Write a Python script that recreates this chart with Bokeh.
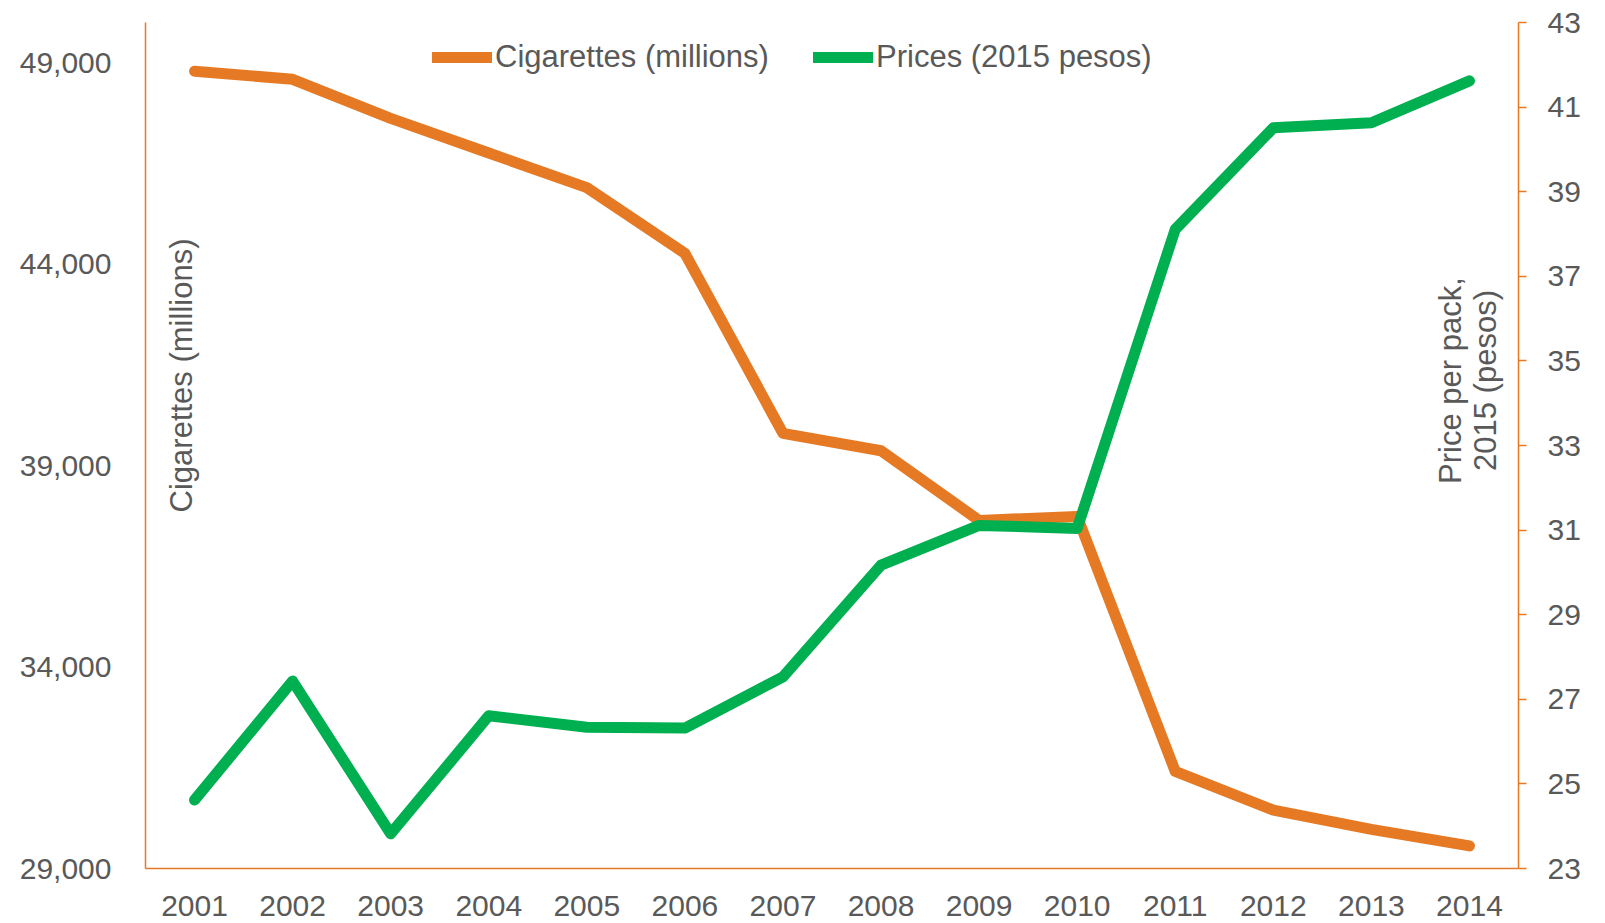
import math
from bokeh.plotting import figure
from bokeh.models import (Range1d, LinearAxis, FixedTicker, NumeralTickFormatter,
                          Legend, LegendItem, Label, FactorRange)
from bokeh.embed import file_html
from bokeh.resources import INLINE

years = ["2001", "2002", "2003", "2004", "2005", "2006", "2007",
         "2008", "2009", "2010", "2011", "2012", "2013", "2014"]
cigarettes = [48790, 48590, 47620, 46760, 45900, 44270, 39800,
              39370, 37640, 37740, 31410, 30450, 29970, 29560]
prices = [24.62, 27.43, 23.82, 26.61, 26.34, 26.32, 27.53,
          30.17, 31.11, 31.04, 38.11, 40.51, 40.63, 41.62]
left_ticks = [29000, 34000, 39000, 44000, 49000]
right_ticks = [23, 25, 27, 29, 31, 33, 35, 37, 39, 41, 43]

ORANGE = "#E67A24"
GREEN = "#00AF4F"
GRAY = "#595959"
FONT = "Liberation Sans"

p = figure(width=1605, height=923,
           x_range=FactorRange(*years),
           y_range=Range1d(29000, 50000),
           output_backend="svg", toolbar_location=None,
           min_border_left=145, min_border_right=87,
           min_border_top=22, min_border_bottom=55)
p.extra_y_ranges = {"price": Range1d(23, 43)}
p.outline_line_color = None
p.xgrid.grid_line_color = None
p.ygrid.grid_line_color = None
p.background_fill_color = "white"
p.border_fill_color = "white"

# left axis
ly = p.yaxis[0]
ly.ticker = FixedTicker(ticks=left_ticks)
ly.formatter = NumeralTickFormatter(format="0,0")
ly.axis_line_color = ORANGE
ly.axis_line_width = 1.5
ly.major_tick_line_color = None
ly.minor_tick_line_color = None
ly.major_label_standoff = 28
ly.major_label_text_font = FONT
ly.major_label_text_font_size = "30px"
ly.major_label_text_color = GRAY

# bottom axis
bx = p.xaxis[0]
bx.axis_line_color = ORANGE
bx.axis_line_width = 1.5
bx.major_tick_line_color = None
bx.minor_tick_line_color = None
bx.major_label_standoff = 21
bx.major_label_text_font = FONT
bx.major_label_text_font_size = "30px"
bx.major_label_text_color = GRAY

# right axis
ry = LinearAxis(y_range_name="price", ticker=FixedTicker(ticks=right_ticks))
ry.axis_line_color = ORANGE
ry.axis_line_width = 1.5
ry.major_tick_line_color = ORANGE
ry.major_tick_line_width = 1.5
ry.major_tick_in = 0
ry.major_tick_out = 8
ry.minor_tick_line_color = None
ry.major_label_standoff = 21
ry.major_label_text_font = FONT
ry.major_label_text_font_size = "30px"
ry.major_label_text_color = GRAY
p.add_layout(ry, "right")

r1 = p.line(x=years, y=cigarettes, line_color=ORANGE, line_width=11,
            line_cap="round", line_join="round")
r2 = p.line(x=years, y=prices, y_range_name="price", line_color=GREEN,
            line_width=11, line_cap="round", line_join="round")

def make_legend(item, vx):
    lg = Legend(items=[item], location=(vx, 793), orientation="horizontal",
                glyph_width=60, glyph_height=20, label_standoff=3,
                label_text_font=FONT, label_text_font_size="31px",
                label_text_color=GRAY, padding=0, margin=0, spacing=0,
                border_line_color=None, background_fill_alpha=0)
    p.add_layout(lg, "center")

make_legend(LegendItem(label="Cigarettes (millions)", renderers=[r1]), 287)
make_legend(LegendItem(label="Prices (2015 pesos)", renderers=[r2]), 668)

lab_kw = dict(angle=math.pi / 2, text_align="center", text_baseline="middle",
              text_font=FONT, text_font_size="31px", text_color=GRAY)
p.add_layout(Label(x=0.367, y=41238, text="Cigarettes (millions)", **lab_kw))
p.add_layout(Label(x=13.307, y=41113, text="Price per pack,", **lab_kw))
p.add_layout(Label(x=13.664, y=41113, text="2015 (pesos)", **lab_kw))

open("out.html", "w").write(file_html(p, INLINE))
